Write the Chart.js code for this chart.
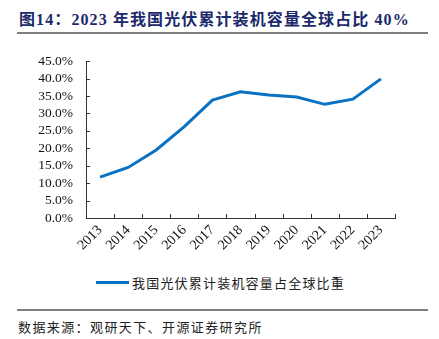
<!DOCTYPE html>
<html>
<head>
<meta charset="utf-8">
<script src="https://cdn.jsdelivr.net/npm/chart.js@4"></script>
<style>
  body { margin: 0; width: 439px; height: 339px; background: #fff; position: relative; overflow: hidden; }
  .title {
    position: absolute; left: 19px; top: 6px;
    font: bold 16px "Liberation Serif", "Noto Sans CJK SC", serif; letter-spacing: 1.1px;
    color: #1c2a6b; white-space: nowrap;
  }
  .rule { position: absolute; left: 17px; width: 411px; height: 1.5px; background: #7f7f7f; }
  .legend {
    position: absolute; left: 96px; top: 273px; height: 18px;
    font: 13px "Liberation Serif", "Noto Sans CJK SC", serif; letter-spacing: 1.2px;
    color: #222; white-space: nowrap; display: flex; align-items: center;
  }
  .legend i { display: inline-block; width: 33px; height: 3px; background: #0a72c2; margin-right: 3px; }
  .source {
    position: absolute; left: 18px; top: 317px;
    font: 13px "Liberation Serif", "Noto Sans CJK SC", serif; letter-spacing: 1.4px;
    color: #222; white-space: nowrap;
  }
  #wrap { position: absolute; left: 0; top: 40px; width: 439px; height: 228px; }
</style>
</head>
<body>
<div class="title">图14：2023 年我国光伏累计装机容量全球占比 40%</div>
<div class="rule" style="top:32px"></div>
<div id="wrap"><canvas id="graphique"></canvas></div>
<div class="legend"><i></i>我国光伏累计装机容量占全球比重</div>
<div class="rule" style="top:309px"></div>
<div class="source">数据来源：观研天下、开源证券研究所</div>

<script>
// données
const annees = ["2013", "2014", "2015", "2016", "2017", "2018", "2019", "2020", "2021", "2022", "2023"];
const partChine = [11.7, 14.5, 19.5, 26.2, 33.8, 36.2, 35.3, 34.7, 32.6, 34.1, 39.9];
const serieNom = "我国光伏累计装机容量占全球比重";

// petits traits de graduation tournés vers l'intérieur
const ticksInterieurs = {
  id: "ticksInterieurs",
  afterDraw(chart) {
    const ctx = chart.ctx;
    const x = chart.scales.x, y = chart.scales.y;
    const area = chart.chartArea;
    ctx.save();
    ctx.strokeStyle = "#333";
    ctx.lineWidth = 1;
    ctx.beginPath();
    y.ticks.forEach((t, i) => {
      const py = Math.round(y.getPixelForTick(i)) + 0.5;
      ctx.moveTo(area.left, py);
      ctx.lineTo(area.left + 4, py);
    });
    for (let i = 0; i <= annees.length; i++) {
      const px = Math.round(x.getPixelForValue(i - 0.5)) + 0.5;
      ctx.moveTo(px, area.bottom);
      ctx.lineTo(px, area.bottom - 4);
    }
    ctx.stroke();
    ctx.restore();
  }
};

new Chart(document.getElementById("graphique"), {
  type: "line",
  data: {
    labels: annees,
    datasets: [{
      label: serieNom,
      data: partChine,
      borderColor: "#0a72c2",
      borderWidth: 3,
      pointRadius: 0,
      tension: 0,
      fill: false
    }]
  },
  options: {
    responsive: true,
    maintainAspectRatio: false,
    animation: false,
    layout: { padding: { left: 0, right: 44, top: 15, bottom: 0 } },
    plugins: { legend: { display: false }, tooltip: { enabled: false } },
    scales: {
      x: {
        offset: true,
        grid: { display: false, drawTicks: false },
        border: { color: "#333", width: 1 },
        ticks: {
          color: "#111", maxRotation: 45, minRotation: 45, padding: 4, autoSkip: false,
          font: { family: "Liberation Serif", size: 14 }
        },
        afterFit(s) { s.height = 50; }
      },
      y: {
        min: 0, max: 45,
        grid: { display: false, drawTicks: false },
        border: { color: "#333", width: 1 },
        ticks: {
          stepSize: 5, color: "#111", padding: 13, autoSkip: false,
          font: { family: "Liberation Serif", size: 13.5 },
          callback: v => v.toFixed(1) + "%"
        },
        afterFit(s) { s.width = 86; }
      }
    }
  },
  plugins: [ticksInterieurs]
});
</script>
</body>
</html>
